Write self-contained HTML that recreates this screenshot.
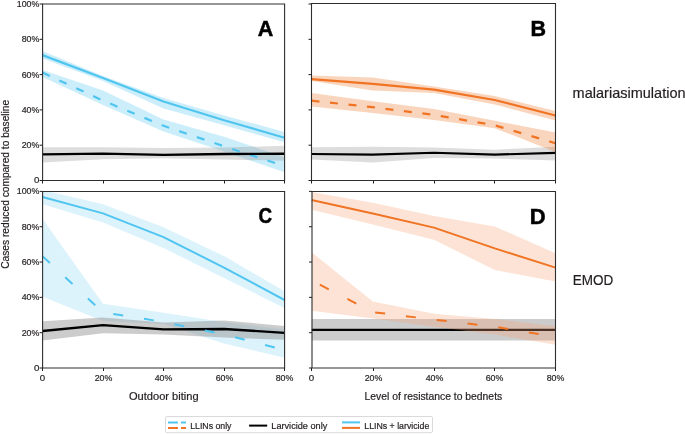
<!DOCTYPE html>
<html><head><meta charset="utf-8">
<style>
html,body{margin:0;padding:0;background:#fff;}
body{width:685px;height:434px;overflow:hidden;position:relative;}
svg{position:absolute;left:0;top:0;will-change:transform;}
text{font-family:"Liberation Sans", sans-serif;stroke:#231f20;stroke-width:0.2px;}
text.L{stroke:#000;stroke-width:0.5px;}
</style></head><body>
<svg width="685" height="434" viewBox="0 0 685 434">
<clipPath id="clipA"><rect x="42.5" y="4.0" width="242.0" height="176.5"/></clipPath>
<g clip-path="url(#clipA)">
<polygon points="42.5,51.0 103.0,76.0 163.5,98.1 224.0,115.4 284.5,131.9 284.5,142.3 224.0,125.2 163.5,108.4 103.0,81.1 42.5,58.6" fill="rgba(80,197,240,0.29)"/>
<polygon points="42.5,70.0 103.0,90.6 163.5,119.4 224.0,136.8 284.5,157.2 284.5,172.2 224.0,151.6 163.5,131.5 103.0,104.9 42.5,77.0" fill="rgba(80,197,240,0.29)"/>
<polygon points="42.5,147.3 103.0,147.3 163.5,148.1 224.0,147.6 284.5,145.7 284.5,160.7 224.0,159.5 163.5,158.2 103.0,159.2 42.5,162.5" fill="rgba(150,150,150,0.32)"/>
<polyline points="42.5,55.1 103.0,78.0 163.5,101.5 224.0,120.2 284.5,137.7" fill="none" stroke="#50c5f0" stroke-width="2.2" stroke-linejoin="round"/>
<polyline points="42.5,72.6 103.0,100.6 163.5,125.8 224.0,146.3 284.5,166.1" fill="none" stroke="#50c5f0" stroke-width="2.2" stroke-linejoin="round" stroke-dasharray="8 10.6" stroke-dashoffset="0"/>
<polyline points="42.5,154.4 103.0,153.6 163.5,154.9 224.0,154.0 284.5,153.7" fill="none" stroke="#000" stroke-width="2.4" stroke-linejoin="round"/>
</g>
<path d="M42.6,4H284.6V180.5H42.6Z" fill="none" stroke="#2e2e2e" stroke-width="1.1"/>
<path d="M39.6,180.50H42.6 M39.6,145.20H42.6 M39.6,109.90H42.6 M39.6,74.60H42.6 M39.6,39.30H42.6 M39.6,4.00H42.6 M42.5,180.5V183.5 M103.5,180.5V183.5 M163.5,180.5V183.5 M224.5,180.5V183.5 M284.5,180.5V183.5" stroke="#231f20" stroke-width="1" fill="none"/>
<text class="L" x="265.4" y="35.5" font-weight="bold" font-size="21.5" text-anchor="middle" fill="#000">A</text>
<text x="39.4" y="183.40" font-size="9.7" text-anchor="end" fill="#231f20">0</text>
<text x="39.4" y="148.10" font-size="9.7" text-anchor="end" fill="#231f20" textLength="17.7" lengthAdjust="spacingAndGlyphs">20%</text>
<text x="39.4" y="112.80" font-size="9.7" text-anchor="end" fill="#231f20" textLength="17.7" lengthAdjust="spacingAndGlyphs">40%</text>
<text x="39.4" y="77.50" font-size="9.7" text-anchor="end" fill="#231f20" textLength="17.7" lengthAdjust="spacingAndGlyphs">60%</text>
<text x="39.4" y="42.20" font-size="9.7" text-anchor="end" fill="#231f20" textLength="17.7" lengthAdjust="spacingAndGlyphs">80%</text>
<text x="39.4" y="6.90" font-size="9.7" text-anchor="end" fill="#231f20" textLength="22.6" lengthAdjust="spacingAndGlyphs">100%</text>
<clipPath id="clipB"><rect x="311.5" y="4.0" width="244.0" height="176.5"/></clipPath>
<g clip-path="url(#clipB)">
<polygon points="311.5,147.3 372.8,146.8 434.0,147.5 494.8,149.7 555.5,146.8 555.5,160.5 494.8,158.6 434.0,158.0 372.8,162.5 311.5,159.6" fill="rgba(150,150,150,0.32)"/>
<polyline points="311.5,154.0 372.8,154.6 434.0,152.7 494.8,154.6 555.5,152.9" fill="none" stroke="#000" stroke-width="2.1" stroke-linejoin="round"/>
<polygon points="311.5,75.6 372.8,77.5 434.0,86.5 494.8,96.0 555.5,111.1 555.5,120.5 494.8,104.6 434.0,92.9 372.8,90.5 311.5,81.1" fill="rgba(240,116,36,0.3)"/>
<polygon points="311.5,92.9 372.8,101.3 434.0,109.0 494.8,120.7 555.5,132.5 555.5,151.9 494.8,128.2 434.0,119.9 372.8,112.9 311.5,106.5" fill="rgba(240,116,36,0.3)"/>
<polyline points="311.5,79.1 372.8,83.8 434.0,89.7 494.8,100.0 555.5,115.5" fill="none" stroke="#f07424" stroke-width="2.2" stroke-linejoin="round"/>
<polyline points="311.5,100.7 372.8,107.2 434.0,114.9 494.8,125.3 555.5,143.2" fill="none" stroke="#f07424" stroke-width="2.2" stroke-linejoin="round" stroke-dasharray="8 10.6" stroke-dashoffset="0"/>
</g>
<path d="M311.5,3.5H555.5V180.5H311.5Z" fill="none" stroke="#2e2e2e" stroke-width="1.1"/>
<path d="M308.5,180.50H311.5 M308.5,145.20H311.5 M308.5,109.90H311.5 M308.5,74.60H311.5 M308.5,39.30H311.5 M308.5,4.00H311.5 M311.5,180.5V183.5 M373.5,180.5V183.5 M434.5,180.5V183.5 M494.5,180.5V183.5 M555.5,180.5V183.5" stroke="#231f20" stroke-width="1" fill="none"/>
<text class="L" x="538.2" y="35.6" font-weight="bold" font-size="21.5" text-anchor="middle" fill="#000">B</text>
<clipPath id="clipC"><rect x="42.5" y="191.4" width="242.0" height="176.6"/></clipPath>
<g clip-path="url(#clipC)">
<polygon points="42.5,190.0 103.0,204.2 163.5,227.3 224.0,256.1 284.5,291.3 284.5,308.0 224.0,278.0 163.5,248.0 103.0,222.6 42.5,204.2" fill="rgba(80,197,240,0.2)"/>
<polygon points="42.5,218.7 103.0,303.8 163.5,312.7 224.0,322.0 284.5,329.5 284.5,357.7 224.0,343.4 163.5,324.0 103.0,321.0 42.5,296.7" fill="rgba(80,197,240,0.2)"/>
<polygon points="42.5,321.2 103.0,317.6 163.5,322.5 224.0,320.4 284.5,325.9 284.5,339.8 224.0,337.6 163.5,334.6 103.0,333.2 42.5,340.6" fill="rgba(150,150,150,0.49)"/>
<polyline points="42.5,331.0 103.0,325.1 163.5,329.4 224.0,329.0 284.5,332.8" fill="none" stroke="#000" stroke-width="2.3" stroke-linejoin="round"/>
<polyline points="42.5,197.0 103.0,213.4 163.5,237.1 224.0,267.6 284.5,300.0" fill="none" stroke="#50c5f0" stroke-width="2.0" stroke-linejoin="round"/>
<polyline points="42.5,256.2 103.0,312.4 163.5,321.9 224.0,334.4 284.5,350.0" fill="none" stroke="#50c5f0" stroke-width="2.0" stroke-linejoin="round" stroke-dasharray="10 21" stroke-dashoffset="0"/>
</g>
<path d="M42.6,191.5H284.6V368H42.6Z" fill="none" stroke="#2e2e2e" stroke-width="1.1"/>
<path d="M39.6,368.00H42.6 M39.6,332.68H42.6 M39.6,297.36H42.6 M39.6,262.04H42.6 M39.6,226.72H42.6 M39.6,191.40H42.6 M42.5,368V371 M103.5,368V371 M163.5,368V371 M224.5,368V371 M284.5,368V371" stroke="#231f20" stroke-width="1" fill="none"/>
<text class="L" x="265.4" y="223.4" font-weight="bold" font-size="21.5" text-anchor="middle" fill="#000" textLength="13.6" lengthAdjust="spacingAndGlyphs">C</text>
<text x="39.4" y="370.90" font-size="9.7" text-anchor="end" fill="#231f20">0</text>
<text x="39.4" y="335.58" font-size="9.7" text-anchor="end" fill="#231f20" textLength="17.7" lengthAdjust="spacingAndGlyphs">20%</text>
<text x="39.4" y="300.26" font-size="9.7" text-anchor="end" fill="#231f20" textLength="17.7" lengthAdjust="spacingAndGlyphs">40%</text>
<text x="39.4" y="264.94" font-size="9.7" text-anchor="end" fill="#231f20" textLength="17.7" lengthAdjust="spacingAndGlyphs">60%</text>
<text x="39.4" y="229.62" font-size="9.7" text-anchor="end" fill="#231f20" textLength="17.7" lengthAdjust="spacingAndGlyphs">80%</text>
<text x="39.4" y="194.30" font-size="9.7" text-anchor="end" fill="#231f20" textLength="22.6" lengthAdjust="spacingAndGlyphs">100%</text>
<text x="42.5" y="381.0" font-size="9.7" text-anchor="middle" fill="#231f20">0</text>
<text x="103.5" y="381.0" font-size="9.7" text-anchor="middle" fill="#231f20" textLength="17.7" lengthAdjust="spacingAndGlyphs">20%</text>
<text x="163.5" y="381.0" font-size="9.7" text-anchor="middle" fill="#231f20" textLength="17.7" lengthAdjust="spacingAndGlyphs">40%</text>
<text x="224.5" y="381.0" font-size="9.7" text-anchor="middle" fill="#231f20" textLength="17.7" lengthAdjust="spacingAndGlyphs">60%</text>
<text x="284.5" y="381.0" font-size="9.7" text-anchor="middle" fill="#231f20" textLength="17.7" lengthAdjust="spacingAndGlyphs">80%</text>
<clipPath id="clipD"><rect x="311.5" y="191.4" width="244.0" height="176.6"/></clipPath>
<g clip-path="url(#clipD)">
<polygon points="311.5,319.0 372.8,319.0 434.0,319.0 494.8,319.0 555.5,319.0 555.5,340.4 494.8,340.4 434.0,340.4 372.8,340.4 311.5,340.4" fill="rgba(150,150,150,0.49)"/>
<polyline points="311.5,329.9 372.8,329.9 434.0,329.9 494.8,329.9 555.5,329.9" fill="none" stroke="#000" stroke-width="2.2" stroke-linejoin="round"/>
<polygon points="311.5,192.1 372.8,202.7 434.0,216.1 494.8,226.5 555.5,253.2 555.5,281.5 494.8,270.0 434.0,239.7 372.8,224.6 311.5,209.8" fill="rgba(245,162,115,0.3)"/>
<polygon points="311.5,252.2 372.8,301.4 434.0,313.8 494.8,319.0 555.5,326.3 555.5,344.7 494.8,334.6 434.0,326.8 372.8,318.5 311.5,310.8" fill="rgba(245,162,115,0.3)"/>
<polyline points="311.5,200.1 372.8,213.6 434.0,227.6 494.8,248.4 555.5,267.6" fill="none" stroke="#f07424" stroke-width="2.0" stroke-linejoin="round"/>
<polyline points="311.5,280.4 372.8,312.1 434.0,319.6 494.8,326.7 555.5,336.9" fill="none" stroke="#f07424" stroke-width="2.0" stroke-linejoin="round" stroke-dasharray="10 21" stroke-dashoffset="21.6"/>
</g>
<path d="M312,191.5H555.5V368H312Z" fill="none" stroke="#2e2e2e" stroke-width="1.1"/>
<path d="M309,368.00H312 M309,332.68H312 M309,297.36H312 M309,262.04H312 M309,226.72H312 M309,191.40H312 M311.5,368V371 M373.5,368V371 M434.5,368V371 M494.5,368V371 M555.5,368V371" stroke="#231f20" stroke-width="1" fill="none"/>
<text class="L" x="537.8" y="223.5" font-weight="bold" font-size="22" text-anchor="middle" fill="#000">D</text>
<text x="311.5" y="381.0" font-size="9.7" text-anchor="middle" fill="#231f20">0</text>
<text x="373.5" y="381.0" font-size="9.7" text-anchor="middle" fill="#231f20" textLength="17.7" lengthAdjust="spacingAndGlyphs">20%</text>
<text x="434.5" y="381.0" font-size="9.7" text-anchor="middle" fill="#231f20" textLength="17.7" lengthAdjust="spacingAndGlyphs">40%</text>
<text x="494.5" y="381.0" font-size="9.7" text-anchor="middle" fill="#231f20" textLength="17.7" lengthAdjust="spacingAndGlyphs">60%</text>
<text x="555.5" y="381.0" font-size="9.7" text-anchor="middle" fill="#231f20" textLength="17.7" lengthAdjust="spacingAndGlyphs">80%</text>
<text x="129.0" y="400.2" font-size="10.6" textLength="69.6" lengthAdjust="spacingAndGlyphs" fill="#231f20">Outdoor biting</text>
<text x="364.6" y="400.3" font-size="10.4" textLength="137.6" lengthAdjust="spacingAndGlyphs" fill="#231f20">Level of resistance to bednets</text>
<text transform="translate(9.3,268.8) rotate(-90)" font-size="10.4" textLength="169" lengthAdjust="spacingAndGlyphs" fill="#231f20">Cases reduced compared to baseline</text>
<text x="572.6" y="97.9" font-size="14.4" textLength="113" lengthAdjust="spacingAndGlyphs" fill="#231f20">malariasimulation</text>
<text x="572.8" y="285.3" font-size="15" textLength="40.5" lengthAdjust="spacingAndGlyphs" fill="#231f20">EMOD</text>
<rect x="165.5" y="416.5" width="267" height="16.2" rx="1.5" fill="#fff" stroke="#dadada" stroke-width="1"/>
<path d="M168,422.5H178M181,422.5H186" stroke="#50c5f0" stroke-width="2"/>
<path d="M168,428H178M181,428H186" stroke="#f07424" stroke-width="2"/>
<text x="190.2" y="428.6" font-size="9.6" textLength="41.3" lengthAdjust="spacingAndGlyphs" fill="#231f20">LLINs only</text>
<path d="M249.1,425.6H267.2" stroke="#000" stroke-width="2"/>
<text x="271.3" y="428.6" font-size="9.6" textLength="56" lengthAdjust="spacingAndGlyphs" fill="#231f20">Larvicide only</text>
<path d="M342,422.4H360" stroke="#50c5f0" stroke-width="2"/>
<path d="M342,427.9H360" stroke="#f07424" stroke-width="2"/>
<text x="364.3" y="428.6" font-size="9.6" textLength="65" lengthAdjust="spacingAndGlyphs" fill="#231f20">LLINs + larvicide</text>
</svg>
</body></html>
